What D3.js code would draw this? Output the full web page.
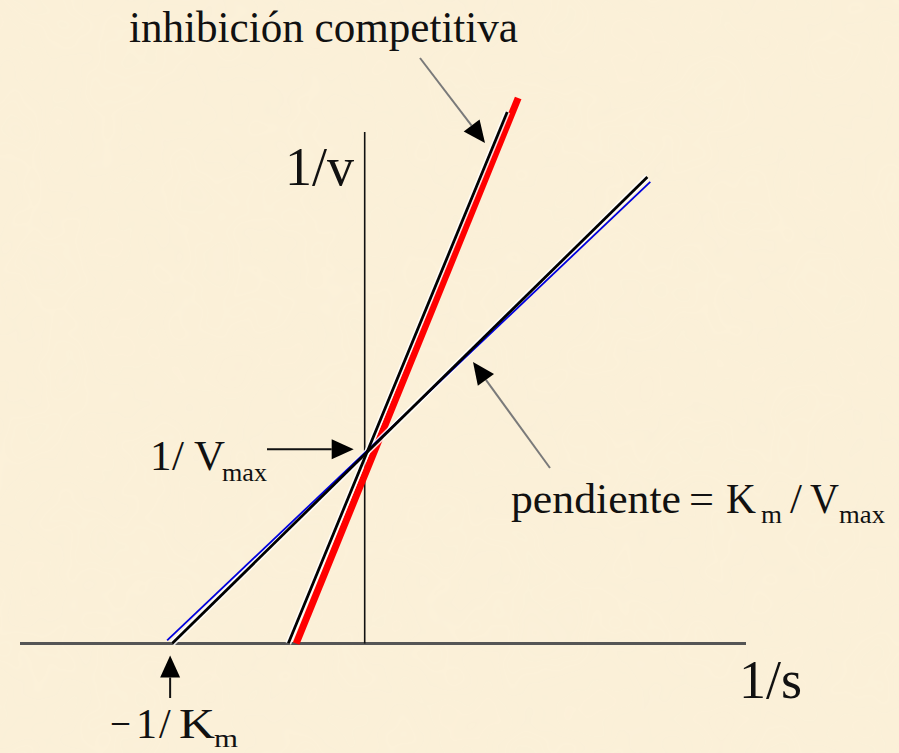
<!DOCTYPE html>
<html>
<head>
<meta charset="utf-8">
<script src="https://cdn.jsdelivr.net/npm/d3@7/dist/d3.min.js"></script>
<style>
  html, body { margin: 0; padding: 0; background: #FBF0D8; }
  svg { display: block; }
  text { font-family: "Liberation Serif", "Times New Roman", serif; fill: #111; }
</style>
</head>
<body>
<svg id="chart" width="899" height="753"></svg>
<script>
// Lineweaver–Burk plot: 1/v against 1/s, with and without a competitive inhibitor.
// Units: 1/s in multiples of 1/Km, 1/v in multiples of 1/Vmax.

// Axis extents (data units)
const xExtent = [-1.79, 1.98];
const yExtent = [0, 2.675];

// Lines, each as [1/s, 1/v] end points
const sinInhibidor      = [[-1.0, 0.0], [1.468, 2.44]];      // black, no inhibitor
const sinInhibidorAzul  = [[-1.026, 0.016], [1.483, 2.414]]; // thin blue companion
const conInhibidor      = [[-0.397, 0.0], [0.740, 2.78]];    // black, competitive inhibitor
const conInhibidorRojo  = [[-0.356, 0.0], [0.797, 2.853]];   // thick red

// Annotated points
const interceptY = [0, 1];     // 1/Vmax
const interceptX = [-1, 0];    // -1/Km

const svg = d3.select("#chart");
const W = 899, H = 753;

// Soft parchment texture
const defs = svg.append("defs");
const f = defs.append("filter").attr("id", "paper").attr("x", 0).attr("y", 0).attr("width", "100%").attr("height", "100%");
f.append("feTurbulence").attr("type", "fractalNoise").attr("baseFrequency", 0.012).attr("numOctaves", 3).attr("seed", 7).attr("result", "n");
f.append("feColorMatrix").attr("in", "n").attr("type", "matrix")
  .attr("values", "0 0 0 0 0.95  0 0 0 0 0.89  0 0 0 0 0.76  0 0 0 0.18 0");
svg.append("rect").attr("width", W).attr("height", H).attr("fill", "#FBF0D8");
svg.append("rect").attr("width", W).attr("height", H).attr("filter", "url(#paper)").attr("opacity", 0.3);

const x = d3.scaleLinear().domain(xExtent).range([20, 746]);
const y = d3.scaleLinear().domain(yExtent).range([643.5, 132]);

const line = d3.line().x(d => x(d[0])).y(d => y(d[1]));

// Axes
svg.append("line")
  .attr("x1", x(xExtent[0])).attr("x2", x(xExtent[1]))
  .attr("y1", y(0)).attr("y2", y(0))
  .attr("stroke", "#555").attr("stroke-width", 3);
svg.append("line")
  .attr("x1", x(0)).attr("x2", x(0))
  .attr("y1", y(0)).attr("y2", y(yExtent[1]))
  .attr("stroke", "#111").attr("stroke-width", 1.6);

// Red line (inhibited) underneath
svg.append("path").attr("d", line(conInhibidorRojo))
  .attr("fill", "none").attr("stroke", "#FF0000").attr("stroke-width", 7);

// Black lines with a light halo
[conInhibidor, sinInhibidor].forEach(pts => {
  svg.append("path").attr("d", line(pts))
    .attr("fill", "none").attr("stroke", "#fff").attr("stroke-opacity", 0.85).attr("stroke-width", 6);
});
svg.append("path").attr("d", line(sinInhibidorAzul))
  .attr("fill", "none").attr("stroke", "#0000DD").attr("stroke-width", 1.8);
[conInhibidor, sinInhibidor].forEach(pts => {
  svg.append("path").attr("d", line(pts))
    .attr("fill", "none").attr("stroke", "#000").attr("stroke-width", 2.8);
});

// Arrows
function arrow(x1, y1, x2, y2, color) {
  const ang = Math.atan2(y2 - y1, x2 - x1);
  const len = 22, hw = 10;
  const bx = x2 - len * Math.cos(ang), by = y2 - len * Math.sin(ang);
  svg.append("line").attr("x1", x1).attr("y1", y1).attr("x2", bx).attr("y2", by)
    .attr("stroke", color).attr("stroke-width", 2);
  const px = -Math.sin(ang) * hw, py = Math.cos(ang) * hw;
  svg.append("path")
    .attr("d", `M${x2},${y2}L${bx + px},${by + py}L${bx - px},${by - py}Z`)
    .attr("fill", "#000");
}
arrow(420, 58, 485, 143, "#7a7a7a");
arrow(550, 468, 473, 362, "#7a7a7a");
arrow(267, y(interceptY[1]) - 3, x(interceptY[0]) - 11, y(interceptY[1]) - 3, "#111");
arrow(x(interceptX[0]) - 2, 698, x(interceptX[0]) - 2, y(interceptX[1]) + 12, "#111");

// Labels
svg.append("text").attr("x", 129).attr("y", 42)
  .attr("font-size", 44).attr("textLength", 389).attr("lengthAdjust", "spacingAndGlyphs")
  .text("inhibición competitiva");

svg.append("text").attr("x", 285).attr("y", 185).attr("font-size", 54).text("1/v");
svg.append("text").attr("x", 739).attr("y", 698).attr("font-size", 54).text("1/s");

// Places one piece of a label at an explicit position
function piece(px, py, size, str, opts = {}) {
  const t = svg.append("text").attr("x", px).attr("y", py).attr("font-size", size).text(str);
  if (opts.len) t.attr("textLength", opts.len).attr("lengthAdjust", "spacingAndGlyphs");
  if (opts.fill) t.attr("fill", opts.fill);
  return t;
}

// 1 / Vmax
piece(150, 470, 43, "1");
piece(172, 470, 43, "/", { fill: "#999" });
piece(194, 470, 43, "V", { len: 31 });
piece(222, 481, 25, "max", { len: 45 });

// pendiente = Km / Vmax
piece(511, 513, 43, "pendiente", { len: 170 });
piece(689, 513, 43, "=", { len: 25 });
piece(726, 513, 43, "K", { len: 30 });
piece(761, 523, 25, "m", { len: 21 });
piece(790, 513, 43, "/", { fill: "#999" });
piece(810, 513, 43, "V", { len: 29 });
piece(839, 523, 25, "max", { len: 46 });

// −1 / Km
piece(110, 738, 42, "−", { len: 21 });
piece(136, 738, 42, "1");
piece(159, 738, 42, "/", { fill: "#999" });
piece(179, 738, 42, "K", { len: 36 });
piece(214, 747, 25, "m", { len: 24 });
</script>
</body>
</html>
